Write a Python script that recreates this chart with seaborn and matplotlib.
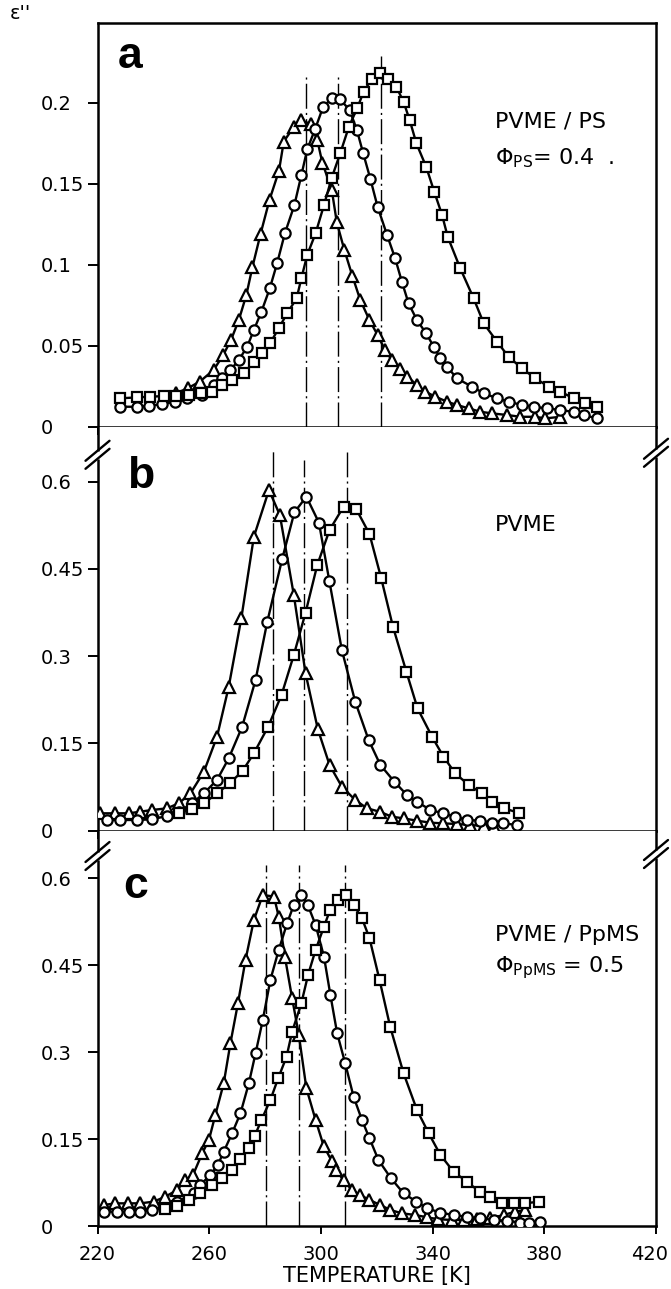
import matplotlib
matplotlib.use("Agg")
import matplotlib.pyplot as plt
import matplotlib.transforms as mtransforms
import seaborn as sns
import numpy as np

# ---------------- data ----------------
# panel a : PVME/PS, phi_PS = 0.4
a_tri_T = [248.1, 252.3, 256.6, 261.6, 265.0, 267.8, 270.6, 273.3, 275.5, 278.4, 281.6, 285.0,
           286.7, 290.3, 292.7, 296.3, 298.7, 300.5, 303.9, 305.7, 308.4, 311.3, 314.1, 317.4,
           320.3, 323.0, 325.4, 328.2, 331.0, 334.4, 337.4, 341.0, 345.2, 348.7, 352.9, 357.1,
           361.3, 366.7, 371.4, 376.8, 380.4, 385.8]
a_tri_E = [0.0205, 0.0236, 0.0277, 0.0349, 0.0441, 0.0534, 0.0657, 0.0812, 0.0986, 0.119, 0.140, 0.158,
           0.176, 0.185, 0.189, 0.187, 0.177, 0.163, 0.146, 0.126, 0.109, 0.0928, 0.0781, 0.0657,
           0.0565, 0.0472, 0.041, 0.0358, 0.0307, 0.0256, 0.0215, 0.0184, 0.0153, 0.0133, 0.0112, 0.0091,
           0.0081, 0.0071, 0.006, 0.006, 0.005, 0.006]

a_cir_T = [228.2, 234.2, 238.4, 243.1, 247.9, 252.1, 257.5, 261.6, 264.6, 267.6, 270.6, 273.6,
           276.0, 278.7, 281.7, 284.3, 287.1, 290.5, 293.0, 295.1, 298.0, 300.8, 304.0, 306.8,
           310.3, 312.9, 315.1, 317.7, 320.3, 323.7, 326.6, 329.0, 331.4, 334.4, 337.7, 340.4,
           342.8, 345.2, 348.7, 354.1, 358.3, 363.1, 367.2, 372.0, 376.2, 381.0, 385.8, 390.5,
           394.1, 398.9]
a_cir_E = [0.0122, 0.0122, 0.0127, 0.0139, 0.0153, 0.0174, 0.0194, 0.0256, 0.0297, 0.0349, 0.041, 0.0493,
           0.0596, 0.0709, 0.0853, 0.1007, 0.1193, 0.1367, 0.1552, 0.1711, 0.184, 0.1974, 0.2028, 0.2022,
           0.1954, 0.183, 0.169, 0.153, 0.1357, 0.1182, 0.1038, 0.0894, 0.076, 0.0657, 0.0575, 0.0493,
           0.0421, 0.0369, 0.0297, 0.0246, 0.0205, 0.0174, 0.0153, 0.0133, 0.0122, 0.0112, 0.0102, 0.009,
           0.0071, 0.005]

a_sq_T = [228.2, 234.2, 238.9, 243.7, 248.0, 252.7, 257.0, 261.0, 264.6, 268.2, 272.4, 276.0,
          279.0, 281.9, 284.9, 287.9, 291.3, 293.0, 295.1, 298.1, 301.1, 303.9, 306.9, 310.0,
          313.1, 315.3, 318.3, 321.3, 324.2, 327.0, 329.6, 331.8, 334.2, 337.7, 340.6, 343.4,
          345.4, 349.9, 354.7, 358.3, 363.1, 367.2, 372.0, 376.8, 381.6, 385.8, 390.5, 394.7, 398.9]
a_sq_E = [0.0174, 0.018, 0.0184, 0.0188, 0.019, 0.0195, 0.0205, 0.0215, 0.0256, 0.0287, 0.0328, 0.040,
          0.0452, 0.0517, 0.0606, 0.0699, 0.0791, 0.0915, 0.1059, 0.1193, 0.1367, 0.1537, 0.1686, 0.185,
          0.197, 0.2067, 0.2149, 0.218, 0.2149, 0.2098, 0.2005, 0.1892, 0.1748, 0.1604, 0.1449, 0.1306,
          0.1172, 0.0977, 0.0791, 0.0637, 0.0523, 0.0431, 0.0359, 0.0297, 0.0246, 0.0215, 0.0174, 0.0143, 0.0122]

a_vline_T = [294.5, 306.2, 321.6]
a_vline_top = [0.216, 0.218, 0.229]

# panel b : PVME
b_tri_T = [221.0, 226.4, 231.2, 235.3, 239.5, 244.9, 249.1, 253.3, 258.1, 262.8, 267.0, 271.5,
           276.0, 281.4, 285.3, 290.3, 294.5, 298.9, 303.1, 307.5, 312.3, 316.5, 321.0, 325.4,
           329.6, 334.4, 339.2, 343.9, 348.7, 353.5, 358.3, 361.9]
b_tri_E = [0.0299, 0.0299, 0.0299, 0.0327, 0.0356, 0.0385, 0.0471, 0.0643, 0.1014, 0.1616, 0.2476, 0.3652,
           0.5055, 0.5858, 0.5428, 0.4053, 0.2706, 0.1745, 0.113, 0.0757, 0.0528, 0.0385, 0.0327, 0.0241,
           0.0212, 0.0172, 0.0138, 0.0126, 0.0115, 0.0098, 0.0081, 0.0069]

b_cir_T = [223.4, 228.2, 234.2, 239.5, 244.9, 249.1, 253.9, 258.1, 262.8, 267.0, 271.8, 276.6,
           280.8, 286.1, 290.5, 294.8, 299.3, 303.0, 307.5, 312.3, 317.1, 321.3, 326.3, 330.8,
           334.4, 339.2, 343.7, 348.1, 352.3, 357.1, 361.3, 365.2, 370.3]
b_cir_E = [0.0184, 0.0184, 0.0184, 0.0196, 0.0253, 0.0327, 0.0471, 0.0643, 0.0872, 0.1245, 0.1788, 0.2591,
           0.3594, 0.4666, 0.5474, 0.5743, 0.5296, 0.43, 0.3107, 0.2218, 0.1559, 0.113, 0.0843, 0.0614,
           0.0499, 0.0356, 0.0299, 0.0241, 0.0184, 0.0172, 0.0138, 0.0127, 0.0098]

b_sq_T = [249.1, 253.9, 258.1, 262.8, 267.4, 272.0, 276.0, 281.1, 285.9, 290.3, 294.5, 298.7,
          303.1, 308.1, 312.7, 317.4, 321.6, 325.8, 330.6, 334.6, 339.8, 343.9, 348.1, 352.9,
          357.7, 361.3, 365.4, 370.8]
b_sq_E = [0.030, 0.038, 0.0471, 0.0643, 0.0815, 0.1032, 0.1331, 0.1788, 0.2333, 0.3021, 0.3748, 0.4568,
          0.517, 0.5571, 0.5526, 0.5101, 0.434, 0.3508, 0.2734, 0.2104, 0.1616, 0.1272, 0.0987, 0.0786,
          0.0643, 0.0499, 0.0385, 0.031]

b_vline_T = [282.8, 294.1, 309.3]
b_vline_top = [0.657, 0.637, 0.652]

# panel c : PVME/PpMS, phi_PpMS = 0.5
c_tri_T = [222.2, 226.4, 230.8, 235.3, 240.1, 244.3, 248.5, 251.5, 254.2, 257.5, 259.9, 262.2,
           265.2, 267.6, 270.3, 273.0, 276.0, 279.2, 283.2, 284.9, 287.1, 289.7, 292.1, 294.8,
           298.1, 301.0, 303.8, 305.5, 308.1, 311.1, 314.1, 317.4, 321.3, 324.9, 329.0, 333.8,
           338.0, 342.1, 347.0, 351.1, 355.9, 360.7, 365.4, 369.6, 373.2]
c_tri_E = [0.0362, 0.0391, 0.0391, 0.0391, 0.042, 0.0506, 0.0621, 0.0794, 0.088, 0.1254, 0.1484, 0.1915,
           0.2462, 0.3153, 0.3843, 0.459, 0.528, 0.5712, 0.5683, 0.5337, 0.4647, 0.3929, 0.3296, 0.2376,
           0.1829, 0.138, 0.113, 0.096, 0.079, 0.0621, 0.0535, 0.0449, 0.0362, 0.0276, 0.0219, 0.019,
           0.015, 0.0116, 0.0104, 0.0104, 0.0116, 0.0133, 0.019, 0.0247, 0.0276]

c_cir_T = [222.2, 227.0, 231.2, 235.3, 239.5, 244.3, 248.5, 254.5, 256.8, 260.4, 263.1, 265.2,
           268.2, 271.2, 274.2, 276.6, 279.2, 281.9, 284.9, 287.9, 290.3, 293.0, 295.3, 298.1,
           301.1, 303.4, 305.8, 308.7, 311.7, 314.7, 317.4, 320.6, 325.1, 329.6, 334.2, 338.0,
           342.8, 347.5, 352.3, 357.1, 361.9, 366.7, 371.4, 374.4, 378.6]
c_cir_E = [0.0247, 0.0247, 0.0247, 0.0247, 0.0276, 0.0305, 0.042, 0.0564, 0.0708, 0.088, 0.1053, 0.1282,
           0.16, 0.1945, 0.2462, 0.298, 0.3555, 0.4245, 0.4763, 0.5223, 0.5539, 0.5712, 0.5539, 0.5194,
           0.4647, 0.3986, 0.333, 0.2807, 0.2231, 0.1829, 0.1513, 0.1139, 0.0823, 0.0564, 0.042, 0.0305,
           0.023, 0.019, 0.016, 0.0133, 0.0104, 0.0092, 0.0058, 0.0046, 0.0075]

c_sq_T = [244.3, 248.5, 252.7, 256.8, 261.0, 264.6, 268.2, 271.2, 274.2, 276.3, 278.7, 281.9,
          284.7, 287.7, 289.7, 293.0, 295.4, 298.1, 301.1, 303.3, 306.3, 309.1, 311.7, 314.7,
          317.4, 321.0, 324.8, 329.6, 334.4, 338.6, 342.8, 347.5, 352.3, 356.8, 360.7, 364.9,
          369.0, 373.2, 378.0]
c_sq_E = [0.0288, 0.035, 0.0449, 0.0564, 0.0708, 0.0823, 0.0966, 0.1151, 0.1341, 0.1553, 0.1829, 0.2174,
          0.2549, 0.2921, 0.3353, 0.3843, 0.4331, 0.4763, 0.5165, 0.5453, 0.5626, 0.5712, 0.5539, 0.531,
          0.4965, 0.4245, 0.3439, 0.2635, 0.2002, 0.16, 0.1225, 0.0937, 0.0765, 0.0592, 0.0506, 0.0391,
          0.0391, 0.0391, 0.042]

c_vline_T = [280.5, 292.3, 308.7]
c_vline_top = [0.623, 0.623, 0.623]

x_ticks = [220, 260, 300, 340, 380, 420]
a_yticks = [0, 0.05, 0.1, 0.15, 0.2]
a_ylabels = ["0", "0.05", "0.1", "0.15", "0.2"]
bc_yticks = [0, 0.15, 0.3, 0.45, 0.6]
bc_ylabels = ["0", "0.15", "0.3", "0.45", "0.6"]

# ---------------- styling ----------------
sns.set_theme(style="ticks")
plt.rcParams["font.family"] = ["DejaVu Sans"]
plt.rcParams["mathtext.default"] = "regular"
plt.rcParams["axes.edgecolor"] = "black"
plt.rcParams["axes.linewidth"] = 1.5

W, H = 671, 1289
fig = plt.figure(figsize=(W / 100, H / 100), dpi=100)

left_px, right_px = 97.5, 656.0
panels_px = [(23.3, 426.5), (426.5, 830.7), (830.7, 1226.0)]
axes = []
for top, bot in panels_px:
    ax = fig.add_axes([left_px / W, 1 - bot / H, (right_px - left_px) / W, (bot - top) / H])
    axes.append(ax)

ylims = [(0, 0.249), (0, 0.695), (0, 0.682)]
series = [
    [(a_tri_T, a_tri_E, "^"), (a_cir_T, a_cir_E, "o"), (a_sq_T, a_sq_E, "s")],
    [(b_tri_T, b_tri_E, "^"), (b_cir_T, b_cir_E, "o"), (b_sq_T, b_sq_E, "s")],
    [(c_tri_T, c_tri_E, "^"), (c_cir_T, c_cir_E, "o"), (c_sq_T, c_sq_E, "s")],
]
vlines = [(a_vline_T, a_vline_top), (b_vline_T, b_vline_top), (c_vline_T, c_vline_top)]
letters = [("a", 0.037, 0.889), ("b", 0.053, 0.848), ("c", 0.046, 0.83)]

for i, ax in enumerate(axes):
    vt, vtop = vlines[i]
    for x, t in zip(vt, vtop):
        ax.plot([x, x], [0, t], color="black", lw=1.0, ls=(0, (18, 3, 1.5, 3)), zorder=1)
    for T, E, m in series[i]:
        ms = 8.4 if m == "^" else 7.4
        sns.lineplot(x=T, y=E, ax=ax, color="black", linewidth=1.7, marker=m,
                     markersize=ms, markerfacecolor="white", markeredgecolor="black",
                     markeredgewidth=1.6, estimator=None, sort=False, zorder=3)
    ax.set_xlim(220, 420)
    ax.set_ylim(*ylims[i])
    ax.set_xticks(x_ticks)
    if i == 0:
        ax.set_yticks(a_yticks)
        ax.set_yticklabels(a_ylabels)
    else:
        ax.set_yticks(bc_yticks)
        ax.set_yticklabels(bc_ylabels)
    ax.tick_params(axis="y", direction="out", length=7, width=1.4, pad=34, labelsize=14,
                   colors="black")
    for lab in ax.get_yticklabels():
        lab.set_horizontalalignment("left")
    ax.tick_params(axis="x", direction="out", length=6, width=1.4, pad=8, labelsize=14,
                   colors="black", labelbottom=(i == 2))
    ax.set_xlabel("")
    ax.set_ylabel("")
    for sp in ax.spines.values():
        sp.set_visible(True)
        sp.set_linewidth(1.8)
        sp.set_color("black")
    if i > 0:
        ax.spines["top"].set_visible(False)
    l, xf, yf = letters[i]
    ax.text(xf, yf, l, transform=ax.transAxes, fontsize=32, fontweight="heavy",
            family="Liberation Sans", ha="left", va="baseline", color="black")

axes[2].set_xlabel("TEMPERATURE [K]", fontsize=15, labelpad=1, color="black")

# keep the last x tick label ("420") inside the figure edge
last_lab = axes[2].get_xticklabels()[-1]
last_lab.set_transform(last_lab.get_transform() +
                       mtransforms.ScaledTranslation(-6 / 100, 0, fig.dpi_scale_trans))

# annotations
axes[0].text(0.712, 0.757, "PVME / PS", transform=axes[0].transAxes, fontsize=16,
             va="center", ha="left", color="black")
axes[0].text(0.712, 0.666, r"$\Phi_{PS}$= 0.4  .", transform=axes[0].transAxes, fontsize=16,
             va="center", ha="left", color="black")
axes[1].text(0.712, 0.757, "PVME", transform=axes[1].transAxes, fontsize=16,
             va="center", ha="left", color="black")
axes[2].text(0.712, 0.737, "PVME / PpMS", transform=axes[2].transAxes, fontsize=16,
             va="center", ha="left", color="black")
axes[2].text(0.712, 0.653, r"$\Phi_{PpMS}$ = 0.5", transform=axes[2].transAxes, fontsize=16,
             va="center", ha="left", color="black")

fig.text(10 / W, 1 - 4 / H, "ε''", fontsize=14, ha="left", va="top", color="black")

# axis-break marks on the spines
def break_mark(ax, xf, yf):
    bb = ax.get_window_extent()
    wpx, hpx = bb.width, bb.height
    dx, dy, gap = 12 / wpx, 10 / hpx, 4 / hpx
    ax.plot([xf, xf], [yf - gap, yf + gap], color="white", lw=5, transform=ax.transAxes,
            clip_on=False, zorder=10, solid_capstyle="butt")
    for off in (-gap, gap):
        ax.plot([xf - dx, xf + dx], [yf + off - dy, yf + off + dy], color="black", lw=1.7,
                transform=ax.transAxes, clip_on=False, zorder=11)

for ax, yf in ((axes[1], 0.93), (axes[2], 0.936)):
    break_mark(ax, 0.0, yf)
    break_mark(ax, 1.0, yf + 0.005)

fig.savefig("out.png", dpi=100, facecolor="white")
